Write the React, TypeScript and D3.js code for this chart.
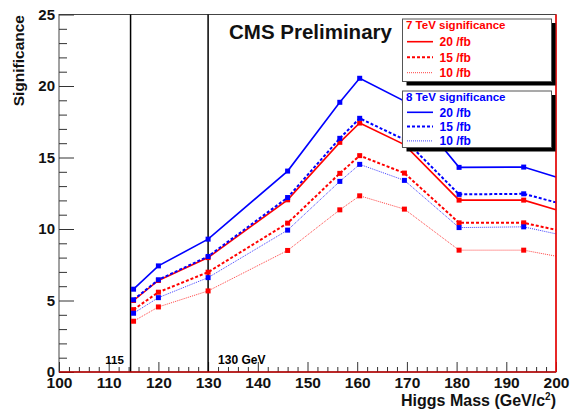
import React, { useEffect, useRef } from "react";
import * as d3 from "d3";

// Higgs mass points (GeV), last one is where the line leaves the frame
const masses = [115, 120, 130, 146, 156.5, 160.5, 169.5, 180.5, 193.5, 200];

// 7 TeV expected significance
const sig7_20fb = [5.0, 6.4, 8.0, 12.04, 16.06, 17.41, 15.9, 12.02, 12.02, 11.34];
const sig7_15fb = [4.36, 5.58, 6.98, 10.41, 13.89, 15.13, 13.91, 10.43, 10.43, 9.94];
const sig7_10fb = [3.55, 4.55, 5.67, 8.5, 11.34, 12.32, 11.39, 8.52, 8.52, 8.1];

// 8 TeV expected significance
const sig8_20fb = [5.79, 7.42, 9.29, 14.05, 18.86, 20.54, 18.95, 14.31, 14.33, 13.63];
const sig8_15fb = [5.05, 6.45, 8.08, 12.2, 16.34, 17.74, 16.25, 12.42, 12.46, 11.86];
const sig8_10fb = [4.11, 5.2, 6.6, 9.92, 13.33, 14.52, 13.4, 10.1, 10.15, 9.66];

const lumiLabels = ["20 /fb", "15 /fb", "10 /fb"];
const xMajorTicks = d3.range(100, 201, 10);
const yMajorTicks = d3.range(0, 26, 5);
const refLines = [114.4, 130];

const FONT = "'Liberation Sans', Arial, Helvetica, sans-serif";

type Style = { dash: string | null; width: number; opacity: number };
const styles: Style[] = [
  { dash: null, width: 1.6, opacity: 1 },
  { dash: "3,2", width: 2, opacity: 1 },
  { dash: "1,1", width: 1, opacity: 0.75 },
];

export default function App() {
  const ref = useRef<SVGSVGElement>(null);

  useEffect(() => {
    const W = 570;
    const H = 410;
    const left = 59;
    const right = 556;
    const top = 14.5;
    const bottom = 372;

    const svg = d3.select(ref.current);
    svg.selectAll("*").remove();
    svg.append("rect").attr("width", W).attr("height", H).attr("fill", "white");

    const x = d3.scaleLinear().domain([100, 200]).range([left, right]);
    const y = d3.scaleLinear().domain([0, 25]).range([bottom, top]);

    // frame
    svg
      .append("rect")
      .attr("x", left)
      .attr("y", top)
      .attr("width", right - left)
      .attr("height", bottom - top)
      .attr("fill", "none")
      .attr("stroke", "#444")
      .attr("stroke-width", 1);

    // x axis: major + minor ticks pointing inward
    const xMinor = d3.range(100, 201, 2).filter((v) => v % 10 !== 0);
    const xAxisMajor = d3
      .axisBottom(x)
      .tickValues(xMajorTicks)
      .tickSizeInner(-10)
      .tickSizeOuter(0)
      .tickPadding(4)
      .tickFormat(d3.format("d"));
    const xAxisMinor = d3
      .axisBottom(x)
      .tickValues(xMinor)
      .tickSizeInner(-5)
      .tickSizeOuter(0)
      .tickFormat(() => "");
    const gx = svg.append("g").attr("transform", "translate(0," + bottom + ")");
    gx.call(xAxisMajor);
    gx.append("g").call(xAxisMinor);
    gx.selectAll(".domain").remove();
    gx.selectAll("line").attr("stroke", "#333");
    gx.selectAll("text")
      .attr("font-family", FONT)
      .attr("font-weight", "bold")
      .attr("font-size", 15.5)
      .attr("fill", "#111")
      .attr("dy", "0.75em");

    // y axis
    const yMinor = d3.range(0, 26, 1).filter((v) => v % 5 !== 0);
    const yAxisMajor = d3
      .axisLeft(y)
      .tickValues(yMajorTicks)
      .tickSizeInner(-15)
      .tickSizeOuter(0)
      .tickPadding(4)
      .tickFormat(d3.format("d"));
    const yAxisMinor = d3
      .axisLeft(y)
      .tickValues(yMinor)
      .tickSizeInner(-8)
      .tickSizeOuter(0)
      .tickFormat(() => "");
    const gy = svg.append("g").attr("transform", "translate(" + left + ",0)");
    gy.call(yAxisMajor);
    gy.append("g").call(yAxisMinor);
    gy.selectAll(".domain").remove();
    gy.selectAll("line").attr("stroke", "#333");
    gy.selectAll("text")
      .attr("font-family", FONT)
      .attr("font-weight", "bold")
      .attr("font-size", 15)
      .attr("fill", "#111")
      .attr("x", -4);

    // axis titles
    const xt = svg
      .append("text")
      .attr("x", right)
      .attr("y", 406)
      .attr("text-anchor", "end")
      .attr("font-family", FONT)
      .attr("font-weight", "bold")
      .attr("font-size", 16)
      .attr("fill", "#111")
      .text("Higgs Mass (GeV/c");
    xt.append("tspan").attr("font-size", 10).attr("dy", -6).text("2");
    xt.append("tspan").attr("dy", 6).text(")");

    svg
      .append("text")
      .attr("transform", "translate(24," + (top + 0.5) + ") rotate(-90)")
      .attr("text-anchor", "end")
      .attr("font-family", FONT)
      .attr("font-weight", "bold")
      .attr("font-size", 15.5)
      .attr("fill", "#111")
      .text("Significance");

    // reference lines at 115 and 130 GeV
    svg
      .selectAll(".ref")
      .data(refLines)
      .enter()
      .append("line")
      .attr("x1", (d) => x(d))
      .attr("x2", (d) => x(d))
      .attr("y1", top)
      .attr("y2", bottom)
      .attr("stroke", "black")
      .attr("stroke-width", 1.5);
    svg
      .append("text")
      .attr("x", x(114.4) - 16)
      .attr("y", 364)
      .attr("text-anchor", "middle")
      .attr("font-family", FONT)
      .attr("font-weight", "bold")
      .attr("font-size", 11.5)
      .text("115");
    svg
      .append("text")
      .attr("x", x(130) + 10)
      .attr("y", 364)
      .attr("font-family", FONT)
      .attr("font-weight", "bold")
      .attr("font-size", 12)
      .text("130 GeV");

    // series
    const series = [
      { values: sig7_20fb, color: "#ff0000", style: styles[0] },
      { values: sig7_15fb, color: "#ff0000", style: styles[1] },
      { values: sig7_10fb, color: "#ff0000", style: styles[2] },
      { values: sig8_20fb, color: "#0000ff", style: styles[0] },
      { values: sig8_15fb, color: "#0000ff", style: styles[1] },
      { values: sig8_10fb, color: "#0000ff", style: styles[2] },
    ];

    const line = d3
      .line<number>()
      .x((d, i) => x(masses[i]))
      .y((d) => y(d));

    series.forEach((s) => {
      svg
        .append("path")
        .datum(s.values)
        .attr("fill", "none")
        .attr("stroke", s.color)
        .attr("stroke-width", s.style.width)
        .attr("stroke-dasharray", s.style.dash)
        .attr("opacity", s.style.opacity)
        .attr("d", line);
      const pts = s.values
        .map((v, i) => ({ m: masses[i], v }))
        .filter((p) => p.m < 200);
      svg
        .append("g")
        .selectAll("rect")
        .data(pts)
        .enter()
        .append("rect")
        .attr("x", (p) => x(p.m) - 2.5)
        .attr("y", (p) => y(p.v) - 2.5)
        .attr("width", 5)
        .attr("height", 5)
        .attr("fill", s.color);
    });

    // red lines along bottom and right edge
    svg
      .append("line")
      .attr("x1", left)
      .attr("x2", right)
      .attr("y1", bottom)
      .attr("y2", bottom)
      .attr("stroke", "#c00000")
      .attr("stroke-width", 1.5);
    svg
      .append("line")
      .attr("x1", right)
      .attr("x2", right)
      .attr("y1", top)
      .attr("y2", bottom)
      .attr("stroke", "#ff0000")
      .attr("stroke-width", 1.5);

    // CMS Preliminary
    svg
      .append("text")
      .attr("x", 229)
      .attr("y", 39)
      .attr("font-family", FONT)
      .attr("font-weight", "bold")
      .attr("font-size", 20.5)
      .attr("fill", "#111")
      .text("CMS Preliminary");

    // legends
    const legends = [
      { title: "7 TeV significance", color: "#ff0000", y0: 19, series: series.slice(0, 3) },
      { title: "8 TeV significance", color: "#0000ff", y0: 91, series: series.slice(3, 6) },
    ];
    legends.forEach((lg, li) => {
      const bx = 402.5;
      const bw = 149;
      const bh = li === 0 ? 62.5 : 56.5;
      const g = svg.append("g");
      g.append("rect")
        .attr("x", bx + 4)
        .attr("y", lg.y0 + 4)
        .attr("width", bw)
        .attr("height", bh)
        .attr("fill", "black");
      g.append("rect")
        .attr("x", bx)
        .attr("y", lg.y0)
        .attr("width", bw)
        .attr("height", bh)
        .attr("fill", "white")
        .attr("stroke", "#555")
        .attr("stroke-width", 1);
      g.append("text")
        .attr("x", bx + 3.5)
        .attr("y", lg.y0 + 10)
        .attr("font-family", FONT)
        .attr("font-weight", "bold")
        .attr("font-size", 11.5)
        .attr("fill", lg.color)
        .text(lg.title);
      const step = li === 0 ? 15.5 : 14.3;
      const first = li === 0 ? 22.7 : 21.3;
      lg.series.forEach((s, i) => {
        const ly = lg.y0 + first + i * step;
        g.append("line")
          .attr("x1", bx + 4.5)
          .attr("x2", bx + 30.5)
          .attr("y1", ly)
          .attr("y2", ly)
          .attr("stroke", s.color)
          .attr("stroke-width", s.style.width)
          .attr("stroke-dasharray", s.style.dash)
          .attr("opacity", s.style.opacity);
        g.append("text")
          .attr("x", bx + 37)
          .attr("y", ly + 4.3)
          .attr("font-family", FONT)
          .attr("font-weight", "bold")
          .attr("font-size", 12)
          .attr("fill", s.color)
          .text(lumiLabels[i]);
      });
    });
  }, []);

  return (
    <svg
      ref={ref}
      width={570}
      height={410}
      style={{ position: "absolute", left: 0, top: 0, display: "block" }}
    />
  );
}
